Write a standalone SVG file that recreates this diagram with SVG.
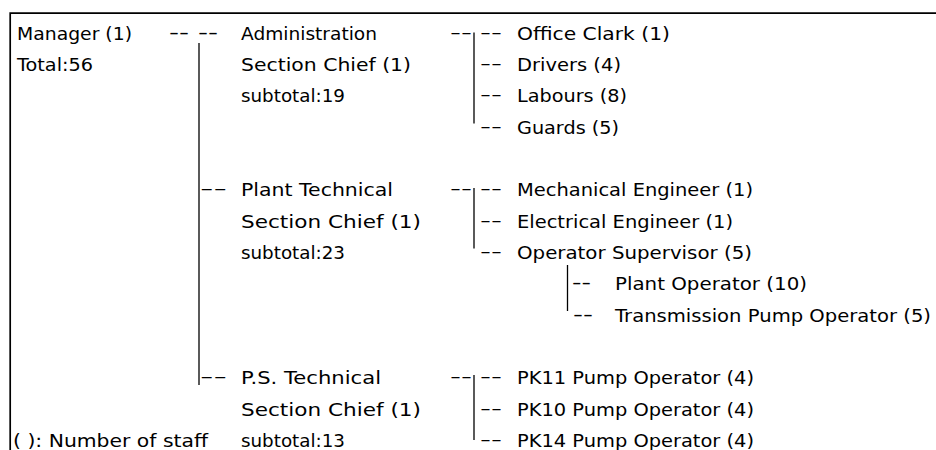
<svg xmlns="http://www.w3.org/2000/svg" width="936" height="450" viewBox="0 0 936 450">
<style>
text{font-family:"DejaVu Sans","Liberation Sans",sans-serif;font-size:18px;fill:#000}
.ln{stroke:#000;stroke-width:1.3;fill:none}
.frame{stroke:#000;stroke-width:1.7;fill:none}
</style>
<rect width="936" height="450" fill="#fff"/>
<path class="frame" d="M10.2,450 V13.2 H936"/>
<g id="connectors">
<line class="ln" x1="199" y1="43" x2="199" y2="385"/>
<line class="ln" x1="474" y1="32.5" x2="474" y2="123.5"/>
<line class="ln" x1="474" y1="188" x2="474" y2="248.5"/>
<line class="ln" x1="474" y1="375" x2="474" y2="440"/>
<line class="ln" x1="567.5" y1="265" x2="567.5" y2="311"/>
<text x="169" y="37.5" textLength="49" lengthAdjust="spacingAndGlyphs">-- --</text>
<text x="450" y="37.5" textLength="22" lengthAdjust="spacingAndGlyphs">--</text>
<text x="480" y="37.5" textLength="22" lengthAdjust="spacingAndGlyphs">--</text>
<text x="480" y="68.85" textLength="22" lengthAdjust="spacingAndGlyphs">--</text>
<text x="480" y="100.2" textLength="22" lengthAdjust="spacingAndGlyphs">--</text>
<text x="480" y="131.55" textLength="22" lengthAdjust="spacingAndGlyphs">--</text>
<text x="200" y="194.25" textLength="27" lengthAdjust="spacingAndGlyphs">--</text>
<text x="450" y="194.25" textLength="22" lengthAdjust="spacingAndGlyphs">--</text>
<text x="480" y="194.25" textLength="22" lengthAdjust="spacingAndGlyphs">--</text>
<text x="480" y="225.6" textLength="22" lengthAdjust="spacingAndGlyphs">--</text>
<text x="480" y="256.95" textLength="22" lengthAdjust="spacingAndGlyphs">--</text>
<text x="572" y="288.3" textLength="19" lengthAdjust="spacingAndGlyphs">--</text>
<text x="573" y="319.65" textLength="20" lengthAdjust="spacingAndGlyphs">--</text>
<text x="200" y="382.35" textLength="27" lengthAdjust="spacingAndGlyphs">--</text>
<text x="450" y="382.35" textLength="22" lengthAdjust="spacingAndGlyphs">--</text>
<text x="480" y="382.35" textLength="22" lengthAdjust="spacingAndGlyphs">--</text>
<text x="480" y="413.7" textLength="22" lengthAdjust="spacingAndGlyphs">--</text>
<text x="480" y="445.05" textLength="22" lengthAdjust="spacingAndGlyphs">--</text>
</g>
<g id="manager">
<text x="17" y="39.5" textLength="115" lengthAdjust="spacingAndGlyphs">Manager (1)</text>
<text x="17" y="70.85" textLength="76" lengthAdjust="spacingAndGlyphs">Total:56</text>
</g>
<g id="legend">
<text x="13" y="447.05" textLength="195" lengthAdjust="spacingAndGlyphs">( ): Number of staff</text>
</g>
<g id="admin">
<text x="241" y="39.5" textLength="136" lengthAdjust="spacingAndGlyphs">Administration</text>
<text x="241" y="70.85" textLength="170" lengthAdjust="spacingAndGlyphs">Section Chief (1)</text>
<text x="241" y="102.2" textLength="104" lengthAdjust="spacingAndGlyphs">subtotal:19</text>
</g>
<g id="office-clark"><text x="517" y="39.5" textLength="153" lengthAdjust="spacingAndGlyphs">Office Clark (1)</text></g>
<g id="drivers"><text x="517" y="70.85" textLength="104" lengthAdjust="spacingAndGlyphs">Drivers (4)</text></g>
<g id="labours"><text x="517" y="102.2" textLength="110" lengthAdjust="spacingAndGlyphs">Labours (8)</text></g>
<g id="guards"><text x="517" y="133.55" textLength="102" lengthAdjust="spacingAndGlyphs">Guards (5)</text></g>
<g id="plant">
<text x="241" y="196.25" textLength="152" lengthAdjust="spacingAndGlyphs">Plant Technical</text>
<text x="241" y="227.6" textLength="180" lengthAdjust="spacingAndGlyphs">Section Chief (1)</text>
<text x="241" y="258.95" textLength="104" lengthAdjust="spacingAndGlyphs">subtotal:23</text>
</g>
<g id="mech-eng"><text x="517" y="196.25" textLength="236" lengthAdjust="spacingAndGlyphs">Mechanical Engineer (1)</text></g>
<g id="elec-eng"><text x="517" y="227.6" textLength="216" lengthAdjust="spacingAndGlyphs">Electrical Engineer (1)</text></g>
<g id="op-sup"><text x="517" y="258.95" textLength="235" lengthAdjust="spacingAndGlyphs">Operator Supervisor (5)</text></g>
<g id="plant-op"><text x="615" y="290.3" textLength="192" lengthAdjust="spacingAndGlyphs">Plant Operator (10)</text></g>
<g id="trans-op"><text x="615" y="321.65" textLength="316" lengthAdjust="spacingAndGlyphs">Transmission Pump Operator (5)</text></g>
<g id="ps">
<text x="241" y="384.35" textLength="140" lengthAdjust="spacingAndGlyphs">P.S. Technical</text>
<text x="241" y="415.7" textLength="180" lengthAdjust="spacingAndGlyphs">Section Chief (1)</text>
<text x="241" y="447.05" textLength="104" lengthAdjust="spacingAndGlyphs">subtotal:13</text>
</g>
<g id="pk11"><text x="517" y="384.35" textLength="237" lengthAdjust="spacingAndGlyphs">PK11 Pump Operator (4)</text></g>
<g id="pk10"><text x="517" y="415.7" textLength="237" lengthAdjust="spacingAndGlyphs">PK10 Pump Operator (4)</text></g>
<g id="pk14"><text x="517" y="447.05" textLength="237" lengthAdjust="spacingAndGlyphs">PK14 Pump Operator (4)</text></g>
</svg>
